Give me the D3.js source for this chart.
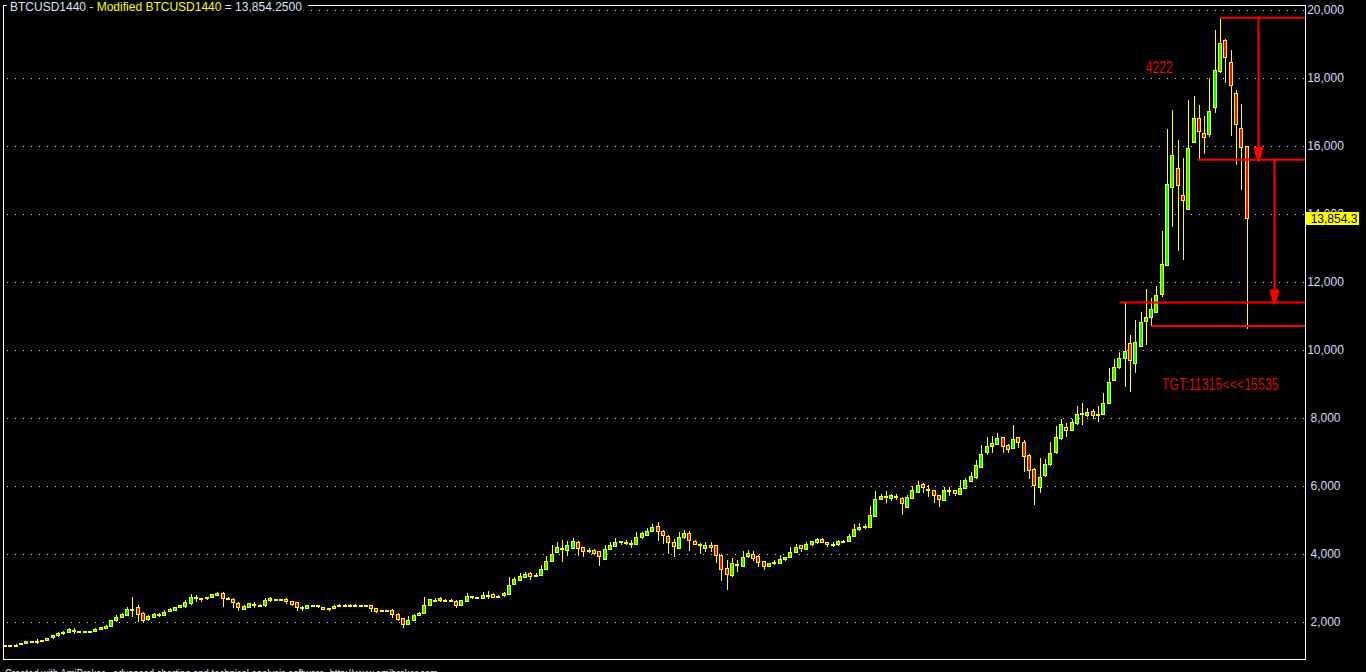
<!DOCTYPE html>
<html>
<head>
<meta charset="utf-8">
<script src="https://cdn.jsdelivr.net/npm/d3@7"></script>
<style>
html, body { margin: 0; padding: 0; background: #000; overflow: hidden; }
svg { display: block; }
text { font-family: "Liberation Sans", Arial, sans-serif; }
</style>
</head>
<body>
<svg id="chart" width="1366" height="672"></svg>
<script>
// daily bars, oldest first
const opens = [
  1300,1310,1315,1330,1360,1420,1425,1440,1460,1530,
  1590,1670,1690,1740,1715,1715,1715,1715,1790,1820,
  1880,2030,2140,2186,2375,2430,2260,2060,2140,2215,
  2190,2305,2350,2430,2450,2530,2715,2680,2680,2730,
  2780,2850,2690,2670,2550,2380,2430,2510,2500,2480,
  2620,2650,2650,2670,2590,2560,2430,2390,2490,2490,
  2430,2390,2390,2500,2500,2500,2500,2490,2490,2490,
  2400,2325,2330,2350,2225,2090,1935,2045,2190,2250,
  2490,2640,2630,2640,2620,2610,2490,2600,2745,2720,
  2690,2790,2820,2750,2765,2820,3110,3215,3305,3440,
  3340,3365,3540,3780,4040,4160,4100,4160,4350,4180,
  4090,4110,4060,3835,4130,4220,4325,4340,4320,4280,
  4480,4550,4660,4795,4670,4520,4325,4170,4480,4590,
  4375,4265,4170,4260,4240,3970,3560,3360,3700,3640,
  3920,4000,3940,3765,3630,3740,3715,3825,3895,4040,
  4240,4130,4270,4330,4435,4345,4290,4270,4380,4380,
  4520,4715,4800,4785,5100,5610,5690,5620,5680,5640,
  5375,5640,5820,6050,5900,5870,5715,5570,5870,5855,
  5760,5925,6130,6245,6540,6980,7160,7225,7430,7200,
  7100,7430,7290,6910,6500,5950,6300,6620,6980,7390,
  7735,7630,7825,8120,8060,8180,8100,8110,8435,9110,
  9480,9745,10180,9600,10100,10835,10950,11100,11620,12500,
  14775,15345,14550,14140,16100,16815,16375,16335,17130,18185,
  19110,18460,17550,16520,16000
];
const highs = [
  1315,1320,1325,1375,1425,1430,1490,1460,1525,1595,
  1705,1715,1795,1810,1725,1720,1725,1800,1840,1885,
  2035,2205,2260,2430,2730,2500,2290,2185,2250,2260,
  2350,2390,2440,2495,2620,2820,2780,2700,2730,2800,
  2880,2860,2710,2700,2560,2475,2535,2570,2510,2700,
  2730,2660,2660,2680,2600,2570,2470,2495,2495,2500,
  2440,2410,2490,2510,2510,2505,2505,2500,2500,2500,
  2410,2345,2340,2360,2240,2100,2150,2210,2270,2730,
  2660,2680,2710,2650,2660,2620,2625,2830,2760,2730,
  2880,2910,2830,2785,2855,3315,3315,3425,3450,3445,
  3440,3650,3930,4240,4335,4410,4375,4470,4360,4190,
  4160,4120,4070,4240,4340,4460,4380,4385,4385,4630,
  4630,4755,4880,4920,4680,4530,4440,4630,4680,4650,
  4385,4320,4345,4345,4250,3980,3795,3875,3795,4065,
  4090,4070,3950,3775,3720,3800,3960,3905,4190,4265,
  4250,4345,4375,4460,4445,4350,4345,4410,4410,4580,
  4860,4900,4855,5410,5825,5760,5830,5760,5750,5650,
  5710,6000,6130,6060,6020,5880,5725,5960,5960,5865,
  6170,6210,6400,6760,7200,7420,7470,7530,7440,7210,
  7765,7440,7350,6920,6510,6815,6765,7275,7745,7970,
  7830,7970,8330,8420,8285,8255,8330,8730,9460,9735,
  9940,11375,10440,10880,11110,11765,11520,11880,13500,16490,
  17030,16150,15620,17350,17470,17180,16880,18000,19410,19735,
  19120,18795,17630,17235,16000
];
const lows = [
  1295,1305,1310,1325,1355,1410,1370,1430,1455,1525,
  1585,1635,1685,1660,1705,1690,1685,1710,1785,1810,
  1875,2020,2130,2180,2160,2010,2010,2045,2120,2170,
  2180,2295,2345,2425,2440,2520,2600,2600,2670,2725,
  2775,2450,2670,2430,2350,2370,2420,2430,2490,2470,
  2610,2640,2640,2550,2480,2330,2330,2385,2480,2440,
  2375,2350,2385,2490,2490,2495,2450,2480,2480,2300,
  2290,2300,2320,2120,2030,1830,1925,2040,2185,2240,
  2480,2620,2600,2630,2590,2420,2480,2590,2700,2680,
  2680,2700,2720,2725,2760,2810,3100,3210,3300,3255,
  3330,3360,3530,3770,4030,3780,3950,4150,3970,3935,
  4040,3990,3650,3830,4120,4210,4280,4275,4190,4270,
  4470,4540,4650,4395,4310,4025,3920,4160,4470,4090,
  4270,4025,4060,4070,3760,3235,2960,3350,3480,3630,
  3890,3810,3620,3550,3620,3690,3710,3815,3890,4030,
  4070,4120,4260,4320,4340,4220,4220,4260,4340,4370,
  4510,4705,4740,4775,5090,5590,5520,5560,5590,5170,
  5365,5630,5810,5800,5700,5520,5400,5560,5730,5710,
  5750,5915,6120,6235,6530,6940,6980,7215,7000,7000,
  7090,7140,6420,6210,5470,5800,6290,6610,6970,7380,
  7450,7620,7815,7800,8050,7980,7890,8100,8420,9100,
  9470,8920,8775,9350,10090,10150,10710,11090,11570,12490,
  13630,12920,12650,14130,16090,15610,15765,16275,16980,18170,
  17875,16305,15460,14735,10640
];
const closes = [
  1310,1315,1320,1360,1420,1420,1440,1455,1520,1590,
  1670,1680,1765,1745,1715,1712,1690,1790,1835,1880,
  2030,2130,2230,2353,2380,2215,2040,2160,2220,2220,
  2290,2380,2430,2490,2570,2730,2720,2680,2720,2795,
  2850,2700,2690,2580,2430,2470,2530,2510,2500,2620,
  2680,2650,2650,2590,2520,2440,2430,2490,2490,2460,
  2380,2390,2470,2500,2500,2500,2500,2490,2490,2390,
  2300,2325,2330,2215,2070,1930,2030,2200,2260,2500,
  2650,2640,2700,2640,2620,2500,2620,2760,2745,2720,
  2790,2790,2730,2760,2850,3080,3240,3325,3410,3330,
  3380,3550,3770,4000,4180,4160,4240,4355,4160,4070,
  4090,4010,3940,4120,4240,4345,4375,4340,4320,4490,
  4590,4650,4790,4660,4540,4335,4215,4500,4590,4405,
  4280,4265,4240,4180,3960,3550,3410,3710,3700,3900,
  4020,3880,3755,3640,3715,3740,3825,3900,4050,4200,
  4160,4265,4370,4440,4345,4280,4290,4370,4380,4520,
  4710,4785,4800,5120,5590,5690,5690,5710,5680,5490,
  5650,5860,6020,5950,5900,5715,5600,5855,5870,5765,
  5935,6150,6270,6590,6940,7150,7240,7410,7165,7070,
  7375,7275,6860,6450,6010,6255,6620,6970,7430,7795,
  7620,7875,8110,8120,8170,8070,8100,8435,9050,9490,
  9755,9970,9690,10235,10815,10960,11200,11590,12520,14880,
  15735,14835,14390,15930,16800,16420,16255,17020,18230,19020,
  18610,17775,16640,15960,13854.25
];

const yTicks = [2000, 4000, 6000, 8000, 10000, 12000, 14000, 16000, 18000, 20000];
const lastClose = closes[closes.length - 1];

// hand drawn study: levels (value, first bar) and arrows (bar, from, to)
const levelValues = [19760, 15580, 11380, 10690];
const levelStartBars = [229, 224.8, 210, 216];
const arrowBars = [236.1, 239.1];
const arrowFrom = [19760, 15580];
const arrowTo = [15580, 11380];
const noteTexts = ["4222", "TGT:11315<<<15535"];
const noteBars = [215, 218];
const noteValues = [18125, 8810];

const W = 1366, H = 672;
const plot = { left: 3, top: 5, right: 1305, bottom: 659 };

const svg = d3.select("#chart");
svg.append("rect").attr("width", W).attr("height", H).attr("fill", "#000");

const x = d3.scaleLinear().domain([-0.38, 245]).range([plot.left, plot.right]);
const y = d3.scaleLinear().domain([2000, 20000]).range([621.5, 9.5]);

// dotted grid
svg.append("g")
    .selectAll("line")
    .data(yTicks)
    .enter()
    .append("line")
    .attr("x1", plot.left + 4)
    .attr("x2", plot.right)
    .attr("y1", d => Math.round(y(d)) + 0.5)
    .attr("y2", d => Math.round(y(d)) + 0.5)
    .attr("stroke", "#d8d8d8")
    .attr("stroke-width", 1)
    .attr("stroke-dasharray", "1,7");

// right axis
const axis = svg.append("g")
    .attr("transform", "translate(1325.5,0)")
    .call(d3.axisRight(y).tickValues(yTicks).tickFormat(d3.format(",")).tickSize(0).tickPadding(0));
axis.select(".domain").remove();
axis.selectAll("text")
    .attr("text-anchor", "middle")
    .attr("fill", "#d4dcff")
    .style("font-size", "12px")
    .style("font-family", "'Liberation Sans', Arial, sans-serif");

// candles
const bars = d3.range(closes.length).map(i => ({ i: i, o: opens[i], h: highs[i], l: lows[i], c: closes[i] }));

const cg = svg.append("g");
cg.selectAll("line.wick")
    .data(bars)
    .enter()
    .append("line")
    .attr("class", "wick")
    .attr("x1", d => Math.round(x(d.i)) + 0.5)
    .attr("x2", d => Math.round(x(d.i)) + 0.5)
    .attr("y1", d => Math.round(y(d.h)))
    .attr("y2", d => Math.round(y(d.l)) + 1)
    .attr("stroke", "#ffff00")
    .attr("stroke-width", 1);

cg.selectAll("rect.body")
    .data(bars)
    .enter()
    .append("rect")
    .attr("class", "body")
    .attr("x", d => Math.round(x(d.i)) - 1.5)
    .attr("width", 3)
    .attr("y", d => Math.round(y(Math.max(d.o, d.c))) + 0.5)
    .attr("height", d => Math.max(Math.round(y(Math.min(d.o, d.c))) - Math.round(y(Math.max(d.o, d.c))), 1))
    .attr("fill", d => d.c >= d.o ? "#00ff00" : "#ff0000")
    .attr("stroke", "#ffff00")
    .attr("stroke-width", 1);

// study lines
const sg = svg.append("g");
sg.selectAll("line.level")
    .data(levelValues)
    .enter()
    .append("line")
    .attr("x1", (d, k) => x(levelStartBars[k]))
    .attr("x2", plot.right)
    .attr("y1", d => y(d))
    .attr("y2", d => y(d))
    .attr("stroke", "#ff0000")
    .attr("stroke-width", 2);

arrowBars.forEach((b, k) => {
    const ax = Math.round(x(b)) + 0.5;
    const tip = y(arrowTo[k]) + 2;
    sg.append("line")
        .attr("x1", ax).attr("x2", ax)
        .attr("y1", y(arrowFrom[k]))
        .attr("y2", tip - 8)
        .attr("stroke", "#ff0000")
        .attr("stroke-width", 2);
    sg.append("path")
        .attr("d", d3.line()([
            [ax - 5, tip - 15], [ax + 5, tip - 15], [ax + 4.5, tip - 12],
            [ax + 1, tip], [ax - 1, tip], [ax - 4.5, tip - 12]
        ]) + "Z")
        .attr("fill", "#ff0000");
});

sg.selectAll("text.note")
    .data(noteTexts)
    .enter()
    .append("text")
    .attr("class", "note")
    .attr("x", (d, k) => x(noteBars[k]))
    .attr("y", (d, k) => y(noteValues[k]))
    .attr("fill", "#d40d0d")
    .style("font-size", "16px")
    .attr("textLength", (d, k) => k === 0 ? 27 : 117)
    .attr("lengthAdjust", "spacingAndGlyphs")
    .text(d => d);

// frame
svg.append("rect")
    .attr("x", plot.left + 0.5)
    .attr("y", plot.top + 0.5)
    .attr("width", plot.right - plot.left)
    .attr("height", plot.bottom - plot.top)
    .attr("fill", "none")
    .attr("stroke", "#ffffff")
    .attr("stroke-width", 1);

// last value marker
const ly = y(lastClose);
svg.append("rect")
    .attr("x", 1306).attr("y", Math.round(ly) - 6)
    .attr("width", 53).attr("height", 13)
    .attr("fill", "#ffff00");
svg.append("text")
    .attr("x", 1334).attr("y", Math.round(ly) + 4.5)
    .attr("text-anchor", "middle")
    .attr("fill", "#000")
    .style("font-size", "12px")
    .text(d3.format(",.1f")(lastClose));

// title
svg.append("rect").attr("x", 7).attr("y", 0).attr("width", 301).attr("height", 13).attr("fill", "#000");
const title = svg.append("text").attr("x", 10).attr("y", 10.5).style("font-size", "12px");
title.append("tspan").attr("fill", "#dde4ff").text("BTCUSD1440 - ");
title.append("tspan").attr("fill", "#ffff00").text("Modified BTCUSD1440");
title.append("tspan").attr("fill", "#dde4ff").text(" = " + d3.format(",.4f")(lastClose));

// footer
svg.append("text")
    .attr("x", 5).attr("y", 678)
    .attr("fill", "#dde4ff")
    .style("font-size", "12px")
    .attr("textLength", 433)
    .attr("lengthAdjust", "spacingAndGlyphs")
    .text("Created with AmiBroker - advanced charting and technical analysis software. http://www.amibroker.com");
</script>
</body>
</html>
